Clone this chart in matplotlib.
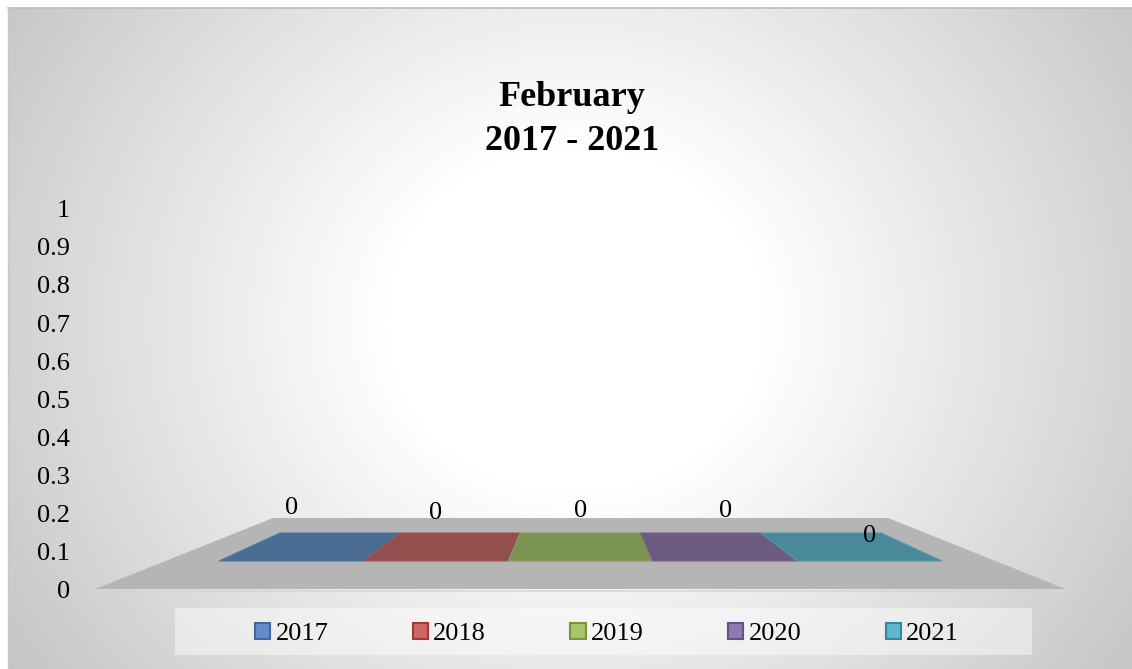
import numpy as np
import matplotlib.pyplot as plt
from matplotlib.patches import Polygon, Rectangle

# data
years = ["2017", "2018", "2019", "2020", "2021"]
values = [0, 0, 0, 0, 0]
title_lines = ["February", "2017 - 2021"]
yticks = np.round(np.arange(0, 1.01, 0.1), 1)

top_colors = ["#4b6c93", "#934f4e", "#7c9452", "#6c5a81", "#4a8999"]
edge_colors = ["#5079aa", "#a65654", "#86a055", "#77638f", "#4f97a9"]
legend_fill = ["#658cc6", "#cd6664", "#a8c46c", "#9179b2", "#5db6cc"]
legend_edge = ["#3d68a0", "#9e3a38", "#76963b", "#65508a", "#31899f"]

W, H = 1132, 669
plt.rcParams["font.family"] = ["Liberation Serif", "DejaVu Serif"]

fig = plt.figure(figsize=(W / 100, H / 100), dpi=100)
fig.patch.set_facecolor("white")

# canvas axes in pixel units (for the pseudo-3D scene)
ax = fig.add_axes([0, 0, 1, 1])
ax.set_xlim(0, W)
ax.set_ylim(H, 0)
ax.axis("off")

# radial grey -> white background
yy, xx = np.mgrid[0:H, 0:W]
r = np.hypot(xx - 575, (yy - 320) * 1.1)
t = np.clip((r - 190) / 520, 0, 1)
g = 1 - 0.24 * t
bg = np.dstack([g, g, g])
ax.imshow(bg[8:, 8:], extent=(8, W, H, 8), aspect="auto", zorder=0)
ax.plot([8, W], [8, 8], color="#bdbdbd", lw=1.2, zorder=1)
ax.plot([8, 8], [8, H], color="#c8c8c8", lw=1.0, zorder=1)

# perspective set-up (screen px)
VP_X, VP_Y = 580.5, 395.0
FRONT_Y, BACK_Y = 561.0, 533.0
X0, DX = 219.0, 144.6
PX_PER_UNIT = 380.0


def project(u, y_floor, h=0.0):
    s = (y_floor - VP_Y) / (FRONT_Y - VP_Y)
    X = X0 + DX * u
    return VP_X + (X - VP_X) * s, y_floor - h * PX_PER_UNIT * s


# floor
u_lo, u_hi = -0.37, len(years) + 0.37
floor = [project(u_lo, 589), project(u_hi, 589), project(u_hi, 518), project(u_lo, 518)]
ax.add_patch(Polygon(floor, closed=True, facecolor="#b5b5b5", edgecolor="none", zorder=2))
fl, fr = project(u_lo, 590.5), project(u_hi, 590.5)
ax.plot([fl[0], fr[0]], [fl[1], fr[1]], color="#d6d6d6", lw=1.2, zorder=2)

# bars (zero height -> only the top face shows)
label_dy = [-3, 2, 0, 0, 25]
for i, v in enumerate(values):
    if v > 0:
        front = [project(i, FRONT_Y, 0), project(i + 1, FRONT_Y, 0),
                 project(i + 1, FRONT_Y, v), project(i, FRONT_Y, v)]
        ax.add_patch(Polygon(front, closed=True, facecolor=legend_fill[i],
                             edgecolor=edge_colors[i], lw=0.8, zorder=3))
    top = [project(i, FRONT_Y, v), project(i + 1, FRONT_Y, v),
           project(i + 1, BACK_Y, v), project(i, BACK_Y, v)]
    ax.add_patch(Polygon(top, closed=True, facecolor=top_colors[i],
                         edgecolor=edge_colors[i], lw=0.8, zorder=4))
    lx, ly = project(i + 0.5, FRONT_Y, v)
    ax.text(lx, ly - 50 + label_dy[i], f"{v:g}", ha="center", va="center",
            fontsize=19, color="black", zorder=6)

# title
ax.text(572, 98, title_lines[0], ha="center", va="center", fontsize=26,
        fontweight="bold", zorder=6)
ax.text(572, 142, title_lines[1], ha="center", va="center", fontsize=26,
        fontweight="bold", zorder=6)

# legend background
ax.add_patch(Rectangle((175, 608), 857, 47, facecolor="white", alpha=0.45,
                       edgecolor="none", zorder=2))

# value axis
y0_px, y1_px = 589, 209
ax_v = fig.add_axes([76 / W, (H - y0_px) / H, 0.005, (y0_px - y1_px) / H])
ax_v.set_ylim(0, 1)
ax_v.set_yticks(yticks)
ax_v.set_yticklabels([f"{t:g}" for t in yticks])
ax_v.tick_params(axis="y", length=0, pad=4.3, labelsize=19)
ax_v.set_xticks([])
for sp in ax_v.spines.values():
    sp.set_visible(False)
ax_v.patch.set_visible(False)

# legend
handles = [Rectangle((0, 0), 1, 1, facecolor=legend_fill[i], edgecolor=legend_edge[i], lw=1.5)
           for i in range(len(years))]
fig.legend(handles, years, loc="center", bbox_to_anchor=(607 / W, 1 - 634 / H),
           ncol=5, frameon=False, fontsize=19, handlelength=0.57, handleheight=0.57,
           handletextpad=0.2, columnspacing=3.2, borderpad=0, borderaxespad=0)

fig.savefig("out.png", dpi=100)
